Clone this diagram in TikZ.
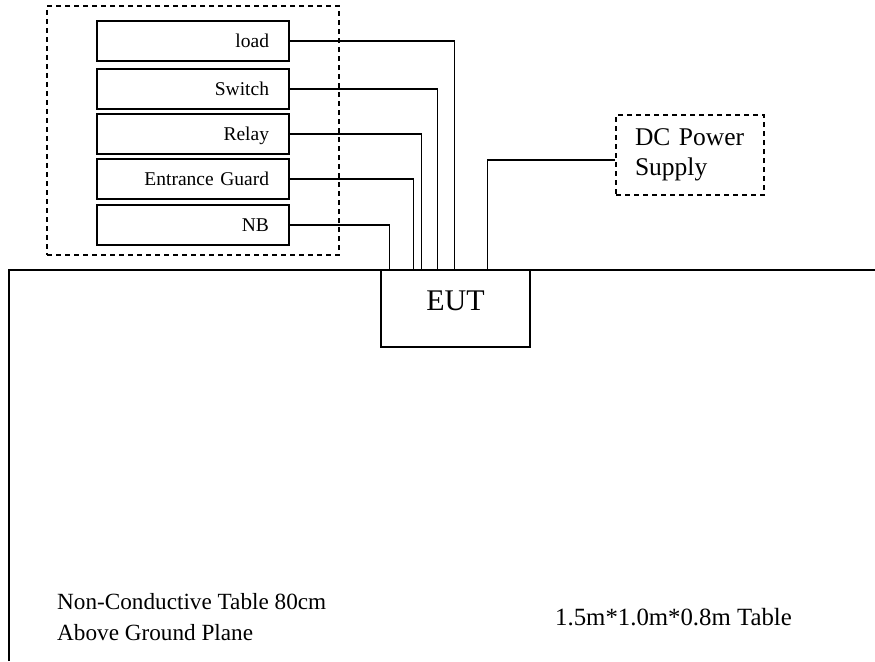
\documentclass[tikz,border=0pt]{standalone}
\usepackage{fontspec}
\setmainfont{Liberation Serif}
\usetikzlibrary{positioning,fit,calc}

\begin{document}
\begin{tikzpicture}[x=1pt, y=-1pt,
  unit/.style={draw, line width=1.3pt, outer sep=0pt, minimum height=40pt, inner xsep=20pt, text width=152pt, align=right, text height=13.5pt, text depth=0pt, font=\fontsize{19.5}{22}\selectfont},
  grp/.style={draw, dash pattern=on 5pt off 4pt, line width=1.3pt, inner xsep=50pt, inner ysep=12.5pt},
  eut/.style={draw, line width=1.3pt, minimum width=149pt, minimum height=77pt, text height=20pt, text depth=16pt, font=\fontsize{30}{36}\selectfont},
  psu/.style={draw, dash pattern=on 5pt off 4pt, line width=1.3pt, minimum width=148pt, minimum height=80pt, inner xsep=19pt, text width=110pt, align=left, font=\fontsize{25.5}{30}\selectfont},
  wire/.style={line width=1.2pt},
  note/.style={inner sep=0pt, align=left}
]
\useasboundingbox (0,0) rectangle (875,661);

\node[unit] (load) at (193,41) {load};
\node[unit, below=8pt of load] (switch) {Switch};
\node[unit, below=5pt of switch] (relay) {Relay};
\node[unit, below=5pt of relay] (guard) {Entrance Guard};
\node[unit, below=6pt of guard] (nb) {NB};
\node[grp, fit=(load)(nb), yshift=2.5pt] (group) {};

\node[eut] (eut) at (455.5,308.5) {EUT};
\node[psu] (dc) at (690,155) {DC Power\\Supply};

\draw[wire] (9,661) |- (875,270);

\draw[wire] (load.east) -| ($(eut.north west)+(74,0)$);
\draw[wire] (switch.east) -| ($(eut.north west)+(57,0)$);
\draw[wire] (relay.east) -| ($(eut.north west)+(41,0)$);
\draw[wire] (guard.east) -| ($(eut.north west)+(33,0)$);
\draw[wire] (nb.east) -| ($(eut.north west)+(9,0)$);
\draw[wire] ([yshift=-5pt]dc.west) -| ($(eut.north west)+(107,0)$);

\node[note, anchor=north west, font=\fontsize{23.2}{30.7}\selectfont] (tbl) at (57,593.5) {Non-Conductive Table 80cm\\Above Ground Plane};
\node[note, anchor=base west, font=\fontsize{24.8}{30}\selectfont] (size) at (555,625.7) {1.5m*1.0m*0.8m Table};
\end{tikzpicture}
\end{document}
